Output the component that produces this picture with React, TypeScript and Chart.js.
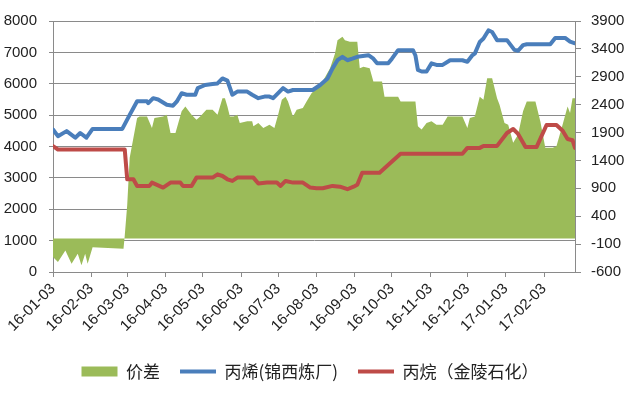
import React, { useEffect, useRef } from "react";
import { Chart, registerables } from "chart.js";

Chart.register(...registerables);

// x values are days counted from 2016-01-03
const tickDays = [0, 31, 60, 91, 121, 152, 182, 213, 244, 274, 305, 335, 366, 397];
const tickLabels = [
  "16-01-03", "16-02-03", "16-03-03", "16-04-03", "16-05-03", "16-06-03", "16-07-03",
  "16-08-03", "16-09-03", "16-10-03", "16-11-03", "16-12-03", "17-01-03", "17-02-03",
];
const lastDay = 422;

const seriesNames = ["价差", "丙烯(锦西炼厂)", "丙烷（金陵石化）"];

// 价差 (right axis)
const spreadDays = [
  0, 4, 10, 15, 20, 23, 26, 28, 32, 57, 58, 60, 62, 68, 70, 76, 80, 82, 89, 92,
  95, 99, 104, 107, 112, 116, 119, 124, 129, 133, 137, 139, 141, 143, 146, 149, 151, 157, 161, 162,
  166, 170, 175, 179, 182, 185, 188, 190, 194, 197, 202, 205, 209, 213, 218, 224, 228, 230, 234, 236,
  240, 246, 248, 251, 256, 259, 266, 268, 279, 281, 293, 295, 298, 302, 306, 310, 315, 319, 331, 335,
  337, 341, 345, 348, 351, 355, 359, 361, 365, 368, 372, 376, 380, 383, 390, 394, 398, 404, 407, 412,
  416, 418, 420, 422,
];
const spreadValues = [
  -333, -422, -214, -451, -274, -481, -274, -451, -155, -184, 50, 600, 1448, 2161, 2190, 2190, 1982, 2161, 2190, 2220,
  1893, 1893, 2280, 2368, 2220, 2131, 2190, 2308, 2308, 2220, 2516, 2516, 2368, 2190, 2190, 2220, 2072, 2101, 2101, 2013,
  2072, 1982, 2042, 1982, 2220, 2488, 2544, 2457, 2190, 2309, 2339, 2457, 2606, 2696, 2814, 3051, 3318, 3557, 3619, 3556,
  3526, 3526, 3051, 3081, 3051, 2814, 2814, 2544, 2544, 2457, 2457, 2013, 1954, 2072, 2101, 2042, 2042, 2190, 2190, 1982,
  2161, 2190, 2544, 2487, 2873, 2873, 2516, 2398, 2072, 2042, 1715, 1864, 2280, 2457, 2457, 2100, 1626, 1626, 1656, 2044,
  2368, 2250, 2516, 2516,
];

// 丙烯(锦西炼厂) (left axis)
const propyleneDays = [
  0, 4, 11, 18, 22, 27, 32, 56, 62, 68, 76, 77, 81, 85, 92, 97, 100, 104, 108, 115,
  117, 123, 129, 133, 137, 141, 145, 149, 157, 161, 166, 171, 175, 178, 182, 186, 190, 194, 210, 216,
  222, 226, 230, 234, 238, 242, 246, 255, 259, 262, 271, 274, 279, 291, 293, 295, 298, 302, 306, 310,
  315, 321, 331, 335, 339, 341, 345, 348, 352, 355, 359, 367, 373, 376, 380, 383, 402, 406, 414, 418,
  422,
];
const propyleneValues = [
  4540, 4330, 4490, 4280, 4430, 4280, 4560, 4560, 5010, 5440, 5440, 5380, 5540, 5500, 5330, 5300, 5430, 5700, 5650, 5650,
  5860, 5960, 5990, 6010, 6170, 6100, 5650, 5750, 5750, 5650, 5540, 5590, 5590, 5540, 5700, 5860, 5750, 5800, 5800, 5960,
  6170, 6490, 6750, 6860, 6750, 6800, 6860, 6910, 6800, 6650, 6650, 6800, 7070, 7070, 6900, 6440, 6390, 6390, 6650, 6600,
  6600, 6750, 6750, 6700, 6910, 6960, 7330, 7440, 7700, 7650, 7390, 7390, 7080, 7050, 7230, 7260, 7260, 7460, 7460, 7340,
  7290,
];

// 丙烷（金陵石化） (left axis)
const propaneDays = [
  0, 4, 58, 60, 65, 68, 78, 80, 89, 95, 103, 105, 112, 116, 129, 133, 137, 141, 145, 149,
  162, 166, 173, 181, 184, 188, 194, 202, 208, 213, 218, 226, 232, 238, 243, 246, 250, 264, 270, 281,
  331, 335, 345, 348, 359, 367, 372, 376, 382, 391, 399, 407, 412, 416, 420, 422,
];
const propaneValues = [
  4010, 3905, 3905, 2955, 2955, 2744, 2744, 2850, 2690, 2850, 2850, 2744, 2744, 3008, 3008, 3113, 3060, 2955, 2902, 3008,
  3008, 2818, 2850, 2850, 2744, 2902, 2850, 2850, 2690, 2670, 2670, 2744, 2720, 2638, 2720, 2780, 3166, 3166, 3377, 3768,
  3768, 3956, 3956, 4019, 4019, 4430, 4557, 4400, 3987, 3987, 4684, 4684, 4500, 4240, 4200, 3956,
];

const colors = ["#9BBB59", "#4A7EBB", "#BE4B48"];
const gridColor = "#8a8a8a";
const textColor = "#222222";

const pts = (xs: number[], ys: number[]) => xs.map((x, i) => ({ x, y: ys[i] }));

// shifts the legend's centre slightly to the left, as in the reference
const legendShift = {
  id: "legendShift",
  afterLayout(chart: any) {
    if (chart.legend) {
      chart.legend.right -= 22;
      chart.legend.width -= 22;
    }
  },
};

export default function App() {
  const ref = useRef<HTMLCanvasElement>(null);
  useEffect(() => {
    document.body.style.margin = "0";
    Chart.defaults.font.family = "'Liberation Sans', sans-serif";
    const lineStyle = {
      borderWidth: 4,
      pointRadius: 0,
      fill: false,
      borderJoinStyle: "round" as const,
      borderCapStyle: "round" as const,
    };
    const chart = new Chart(ref.current!, {
      type: "line",
      plugins: [legendShift],
      data: {
        datasets: [
          {
            label: seriesNames[0],
            data: pts(spreadDays, spreadValues),
            yAxisID: "y1",
            fill: "origin",
            backgroundColor: colors[0],
            borderColor: colors[0],
            borderWidth: 0,
            pointRadius: 0,
            order: 10,
          },
          {
            label: seriesNames[1],
            data: pts(propyleneDays, propyleneValues),
            yAxisID: "y",
            borderColor: colors[1],
            backgroundColor: colors[1],
            order: 1,
            ...lineStyle,
          },
          {
            label: seriesNames[2],
            data: pts(propaneDays, propaneValues),
            yAxisID: "y",
            borderColor: colors[2],
            backgroundColor: colors[2],
            order: 2,
            ...lineStyle,
          },
        ],
      },
      options: {
        responsive: false,
        animation: false,
        layout: { padding: { top: 19, bottom: 3, left: 0, right: 0 } },
        plugins: {
          tooltip: { enabled: false },
          legend: {
            position: "bottom",
            labels: {
              font: { size: 17, family: "'Noto Sans CJK SC', sans-serif" },
              color: textColor,
              usePointStyle: true,
              pointStyleWidth: 36,
              boxHeight: 10,
              padding: 20,
              generateLabels: (c: any) =>
                c.data.datasets.map((ds: any, i: number) => ({
                  text: ds.label,
                  fillStyle: colors[i],
                  strokeStyle: colors[i],
                  lineWidth: i === 0 ? 0 : 4,
                  pointStyle: i === 0 ? "rect" : "line",
                  hidden: false,
                  datasetIndex: i,
                  fontColor: textColor,
                })),
            },
          },
        },
        scales: {
          x: {
            type: "linear",
            min: 0,
            max: lastDay,
            grid: { drawOnChartArea: false, color: gridColor, tickLength: 5 },
            border: { color: gridColor },
            afterBuildTicks: (s: any) => {
              s.ticks = tickDays.map((v) => ({ value: v }));
            },
            afterFit: (s: any) => {
              s.height = 71;
            },
            ticks: {
              autoSkip: false,
              minRotation: 45,
              maxRotation: 45,
              padding: 3,
              color: textColor,
              font: { size: 15 },
              callback: (v: any) => {
                const i = tickDays.indexOf(Number(v));
                return i >= 0 ? tickLabels[i] : "";
              },
            },
          },
          y: {
            position: "left",
            min: 0,
            max: 8000,
            grid: { color: gridColor, tickLength: 4 },
            border: { color: gridColor },
            afterFit: (s: any) => {
              s.width = 53;
            },
            ticks: {
              stepSize: 1000,
              padding: 12,
              color: textColor,
              font: { size: 15 },
              callback: (v: any) => String(v),
            },
          },
          y1: {
            position: "right",
            min: -600,
            max: 3900,
            grid: { drawOnChartArea: false, color: gridColor, tickLength: 6 },
            border: { color: gridColor },
            afterFit: (s: any) => {
              s.width = 67;
            },
            ticks: {
              stepSize: 500,
              padding: 10,
              color: textColor,
              font: { size: 15 },
              callback: (v: any) => String(v),
            },
          },
        },
      },
    });
    return () => chart.destroy();
  }, []);
  return (
    <div style={{ width: 642, height: 393 }}>
      <canvas ref={ref} width={642} height={393} />
    </div>
  );
}
